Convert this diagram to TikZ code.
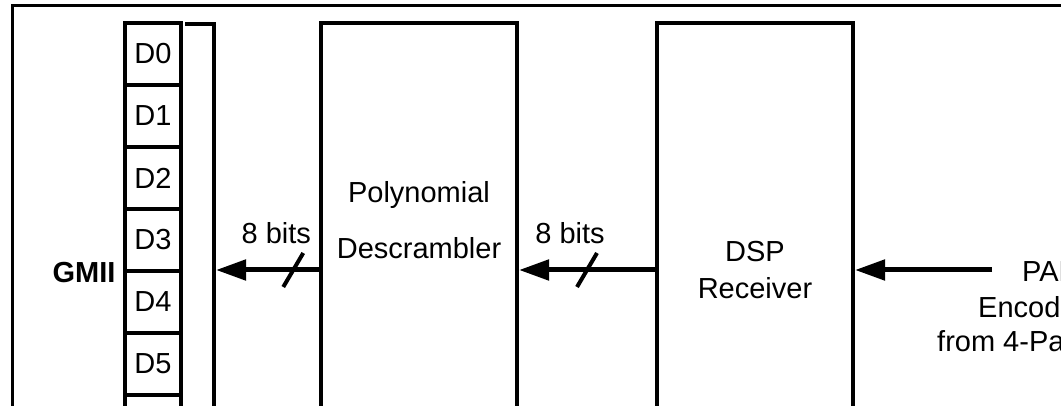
\documentclass[tikz,border=0pt]{standalone}
\usepackage{fontspec}
\setmainfont{Liberation Sans}
\usetikzlibrary{positioning,arrows.meta}

\begin{document}
\begin{tikzpicture}[
  x=1pt, y=-1pt,
  font=\fontsize{29}{37}\selectfont,
  blk/.style={rectangle, draw, line width=4pt, minimum width=196pt, align=center, inner sep=0pt},
  cell/.style={rectangle, draw, line width=4pt, minimum width=55.5pt, minimum height=62pt, inner sep=0pt},
  arr/.style={-{Triangle[length=30pt,width=20pt]}, line width=5pt},
  slash/.style={line width=4pt},
  lbl/.style={inner sep=0pt}
]
\useasboundingbox (0,0) rectangle (1061,406);
\clip (0,0) rectangle (1061,406);
% outer frame
\draw[line width=3pt] (12.5,5.5) rectangle (1120,460);
% GMII data lines
\foreach \i in {0,...,5}
  \node[cell] (d\i) at (153,54+62*\i) {D\i};
\node[cell] (d6) at (153,426) {};
\node[lbl, font=\fontsize{29}{37}\selectfont\bfseries] (gmii) at (84,273) {GMII};
% bus bar
\draw[line width=4pt] (185,24) -| (214,460);
\coordinate (bus) at (216,270);
% blocks
\node[blk, minimum height=394pt] (desc) at (419,220) {Polynomial\\[19pt]Descrambler};
\node[blk, minimum height=494pt] (dsp) at (755,270) {DSP\\Receiver};
% input
\coordinate (src) at (992,270);
\node[lbl, anchor=base west] (pam) at (1022,282) {PAM-5};
\node[lbl, anchor=base west] (enc) at (978,318) {Encoded};
\node[lbl, anchor=base west] (pair) at (937,352) {from 4-Pair};
% connectors
\draw[arr] (src) -- (dsp.east);
\draw[arr] (dsp.west) -- coordinate[pos=.5] (s2) (desc.east |- dsp.west);
\draw[arr] (desc.west |- dsp.west) -- coordinate[pos=.25] (s1) (bus);
\draw[slash] (s1) +(-10,17) -- +(10,-17);
\draw[slash] (s2) +(-10,17) -- +(10,-17);
\node[lbl, above=26pt of s1, xshift=-17pt] (w1) {8 bits};
\node[lbl, above=26pt of s2, xshift=-17pt] (w2) {8 bits};
\end{tikzpicture}
\end{document}
